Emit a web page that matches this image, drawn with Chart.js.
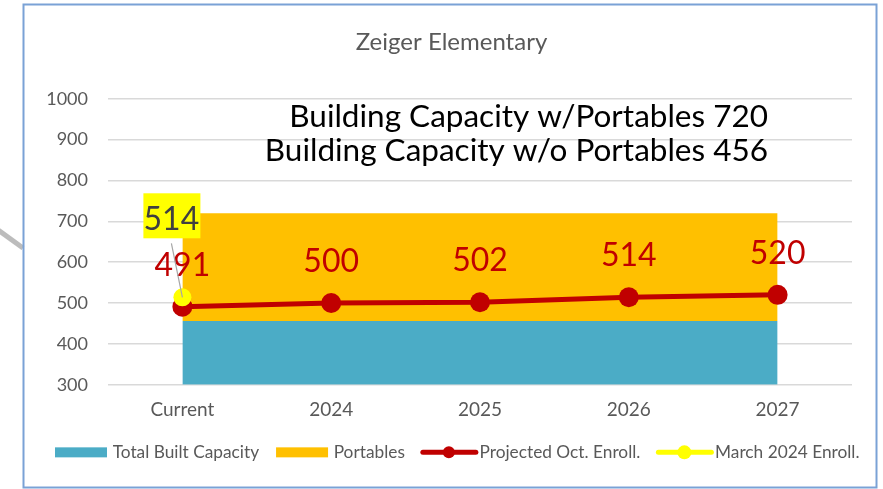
<!DOCTYPE html>
<html><head><meta charset="utf-8">
<script src="https://cdn.jsdelivr.net/npm/chart.js@4"></script>
<style>html,body{margin:0;padding:0;background:#fff}#wrap{width:883px;height:489px}</style>
</head><body><div id="wrap"><canvas id="c" width="883" height="489"></canvas></div>
<script>
const categories = ['Current', '2024', '2025', '2026', '2027'];
const builtCapacity = [456, 456, 456, 456, 456];
const portables = [264, 264, 264, 264, 264];
const projectedEnroll = [491, 500, 502, 514, 520];
const march2024Enroll = [514, null, null, null, null];
const seriesNames = ['Total Built Capacity', 'Portables', 'Projected Oct. Enroll.', 'March 2024 Enroll.'];
const seriesColors = ['#4bacc6', '#ffc000', '#c00000', '#ffff00'];
const yMin = 300, yMax = 1000, yStep = 100;
const chartTitle = 'Zeiger Elementary';
const notes = ['Building Capacity w/Portables 720', 'Building Capacity w/o Portables 456'];

const FONT = 'Lato';
const withPortables = builtCapacity.map((v, i) => v + portables[i]);
const LEGEND_START_X = 55;
const TITLE_SHIFT = 10;

const framePlugin = {
  id: 'frame',
  beforeDraw(chart) {
    const c = chart.ctx;
    c.save();
    c.fillStyle = '#ffffff';
    c.fillRect(0, 0, chart.width, chart.height);
    c.strokeStyle = 'rgba(160,160,160,0.7)';
    c.lineWidth = 5;
    c.beginPath(); c.moveTo(-2, 230); c.lineTo(23, 248); c.stroke();
    c.strokeStyle = '#7aa2d6';
    c.lineWidth = 2;
    c.strokeRect(23.5, 4.5, 853, 483);
    c.restore();
  },
  afterLayout(chart) {
    const lg = chart.legend;
    if (lg && lg.lineWidths) {
      const pad = lg.options.labels.padding;
      const start = (lg.left + pad + lg.right - lg.lineWidths[0]) / 2;
      const shift = LEGEND_START_X - start;
      lg.left += shift;
      lg.right += shift;
    }
    const tb = chart.titleBlock;
    if (tb) { tb.left += TITLE_SHIFT; tb.right += TITLE_SHIFT; }
  }
};

const labelPlugin = {
  id: 'valueLabels',
  afterDatasetsDraw(chart) {
    const ctx = chart.ctx;
    ctx.save();
    ctx.textAlign = 'center';
    ctx.textBaseline = 'alphabetic';
    ctx.font = '32px ' + FONT;
    ctx.fillStyle = seriesColors[2];
    chart.getDatasetMeta(2).data.forEach((p, i) => {
      ctx.fillText(String(projectedEnroll[i]), p.x, p.y - 31);
    });
    const ym = chart.getDatasetMeta(3).data[0];
    ctx.fillStyle = seriesColors[3];
    ctx.fillRect(ym.x - 39, ym.y - 104, 57, 45);
    ctx.strokeStyle = '#a6a6a6';
    ctx.lineWidth = 1.2;
    ctx.beginPath(); ctx.moveTo(ym.x - 11, ym.y - 54); ctx.lineTo(ym.x, ym.y); ctx.stroke();
    ctx.fillStyle = '#404040';
    ctx.fillText(String(march2024Enroll[0]), ym.x - 11, ym.y - 67);
    ctx.textAlign = 'right';
    ctx.fillStyle = '#000000';
    ctx.font = '31.5px ' + FONT;
    ctx.fillText(notes[0], 768, 127);
    ctx.fillText(notes[1], 768, 161);
    ctx.restore();
  },
  afterDraw(chart) {
    const lg = chart.legend;
    if (!lg || !lg.legendHitBoxes) return;
    const ctx = chart.ctx;
    ctx.save();
    lg.legendItems.forEach((it, k) => {
      const col = seriesColors[it.datasetIndex];
      const hb = lg.legendHitBoxes[k];
      const cy = hb.top + hb.height / 2;
      ctx.strokeStyle = col;
      ctx.fillStyle = col;
      if (it.datasetIndex < 2) {
        ctx.fillRect(hb.left, cy - 5, 52, 10);
      } else {
        const r = it.datasetIndex === 2 ? 6 : 7;
        ctx.lineWidth = 5;
        ctx.lineCap = 'round';
        ctx.beginPath(); ctx.moveTo(hb.left + 1, cy); ctx.lineTo(hb.left + 54, cy); ctx.stroke();
        ctx.beginPath(); ctx.arc(hb.left + 27, cy, r, 0, Math.PI * 2); ctx.fill();
      }
    });
    ctx.restore();
  }
};

new Chart(document.getElementById('c'), {
  type: 'line',
  data: {
    labels: categories,
    datasets: [
      { label: seriesNames[0], data: builtCapacity, backgroundColor: seriesColors[0], borderColor: seriesColors[0],
        borderWidth: 0, pointRadius: 0, fill: 'start', order: 3 },
      { label: seriesNames[1], data: withPortables, backgroundColor: seriesColors[1], borderColor: seriesColors[1],
        borderWidth: 0, pointRadius: 0, fill: '-1', order: 2 },
      { label: seriesNames[2], data: projectedEnroll, borderColor: seriesColors[2], backgroundColor: seriesColors[2],
        borderWidth: 5, pointRadius: 10, pointBackgroundColor: seriesColors[2], pointBorderWidth: 0, fill: false, order: 1 },
      { label: seriesNames[3], data: march2024Enroll, borderColor: seriesColors[3], backgroundColor: seriesColors[3],
        borderWidth: 5, pointRadius: 9, pointBackgroundColor: seriesColors[3], pointBorderWidth: 0, fill: false, order: 0 }
    ]
  },
  options: {
    responsive: false,
    animation: false,
    devicePixelRatio: 1,
    layout: { padding: { left: 0, right: 0, top: 10, bottom: 18 } },
    scales: {
      x: {
        offset: true,
        grid: { display: false, drawTicks: false },
        border: { display: false },
        ticks: { color: '#595959', font: { family: FONT, size: 19 }, padding: 14, maxRotation: 0 },
        afterFit(s) { s.height = 42; }
      },
      y: {
        min: yMin, max: yMax,
        grid: { color: '#d9d9d9', lineWidth: 1.5, drawTicks: false },
        border: { display: false },
        ticks: { stepSize: yStep, color: '#595959', font: { family: FONT, size: 18 }, padding: 20,
          callback: v => String(v) },
        afterFit(s) { s.width = 108; }
      },
      yRight: {
        position: 'right',
        min: yMin, max: yMax,
        grid: { display: false, drawTicks: false },
        border: { display: false },
        ticks: { display: false },
        afterFit(s) { s.width = 31; }
      }
    },
    plugins: {
      title: { display: true, text: chartTitle, color: '#595959',
        font: { family: FONT, size: 24, weight: 'normal' }, padding: { top: 18, bottom: 42 } },
      legend: {
        position: 'bottom',
        labels: {
          boxWidth: 49, boxHeight: 10, padding: 17, color: '#595959',
          font: { family: FONT, size: 17.3 },
          generateLabels(chart) {
            const items = Chart.defaults.plugins.legend.labels.generateLabels(chart);
            items.sort((a, b) => a.datasetIndex - b.datasetIndex);
            items.forEach(it => {
              it.lineWidth = 0;
              it.fillStyle = 'rgba(0,0,0,0)';
              it.strokeStyle = 'rgba(0,0,0,0)';
            });
            return items;
          }
        }
      },
      tooltip: { enabled: false }
    }
  },
  plugins: [framePlugin, labelPlugin]
});
</script></body></html>
